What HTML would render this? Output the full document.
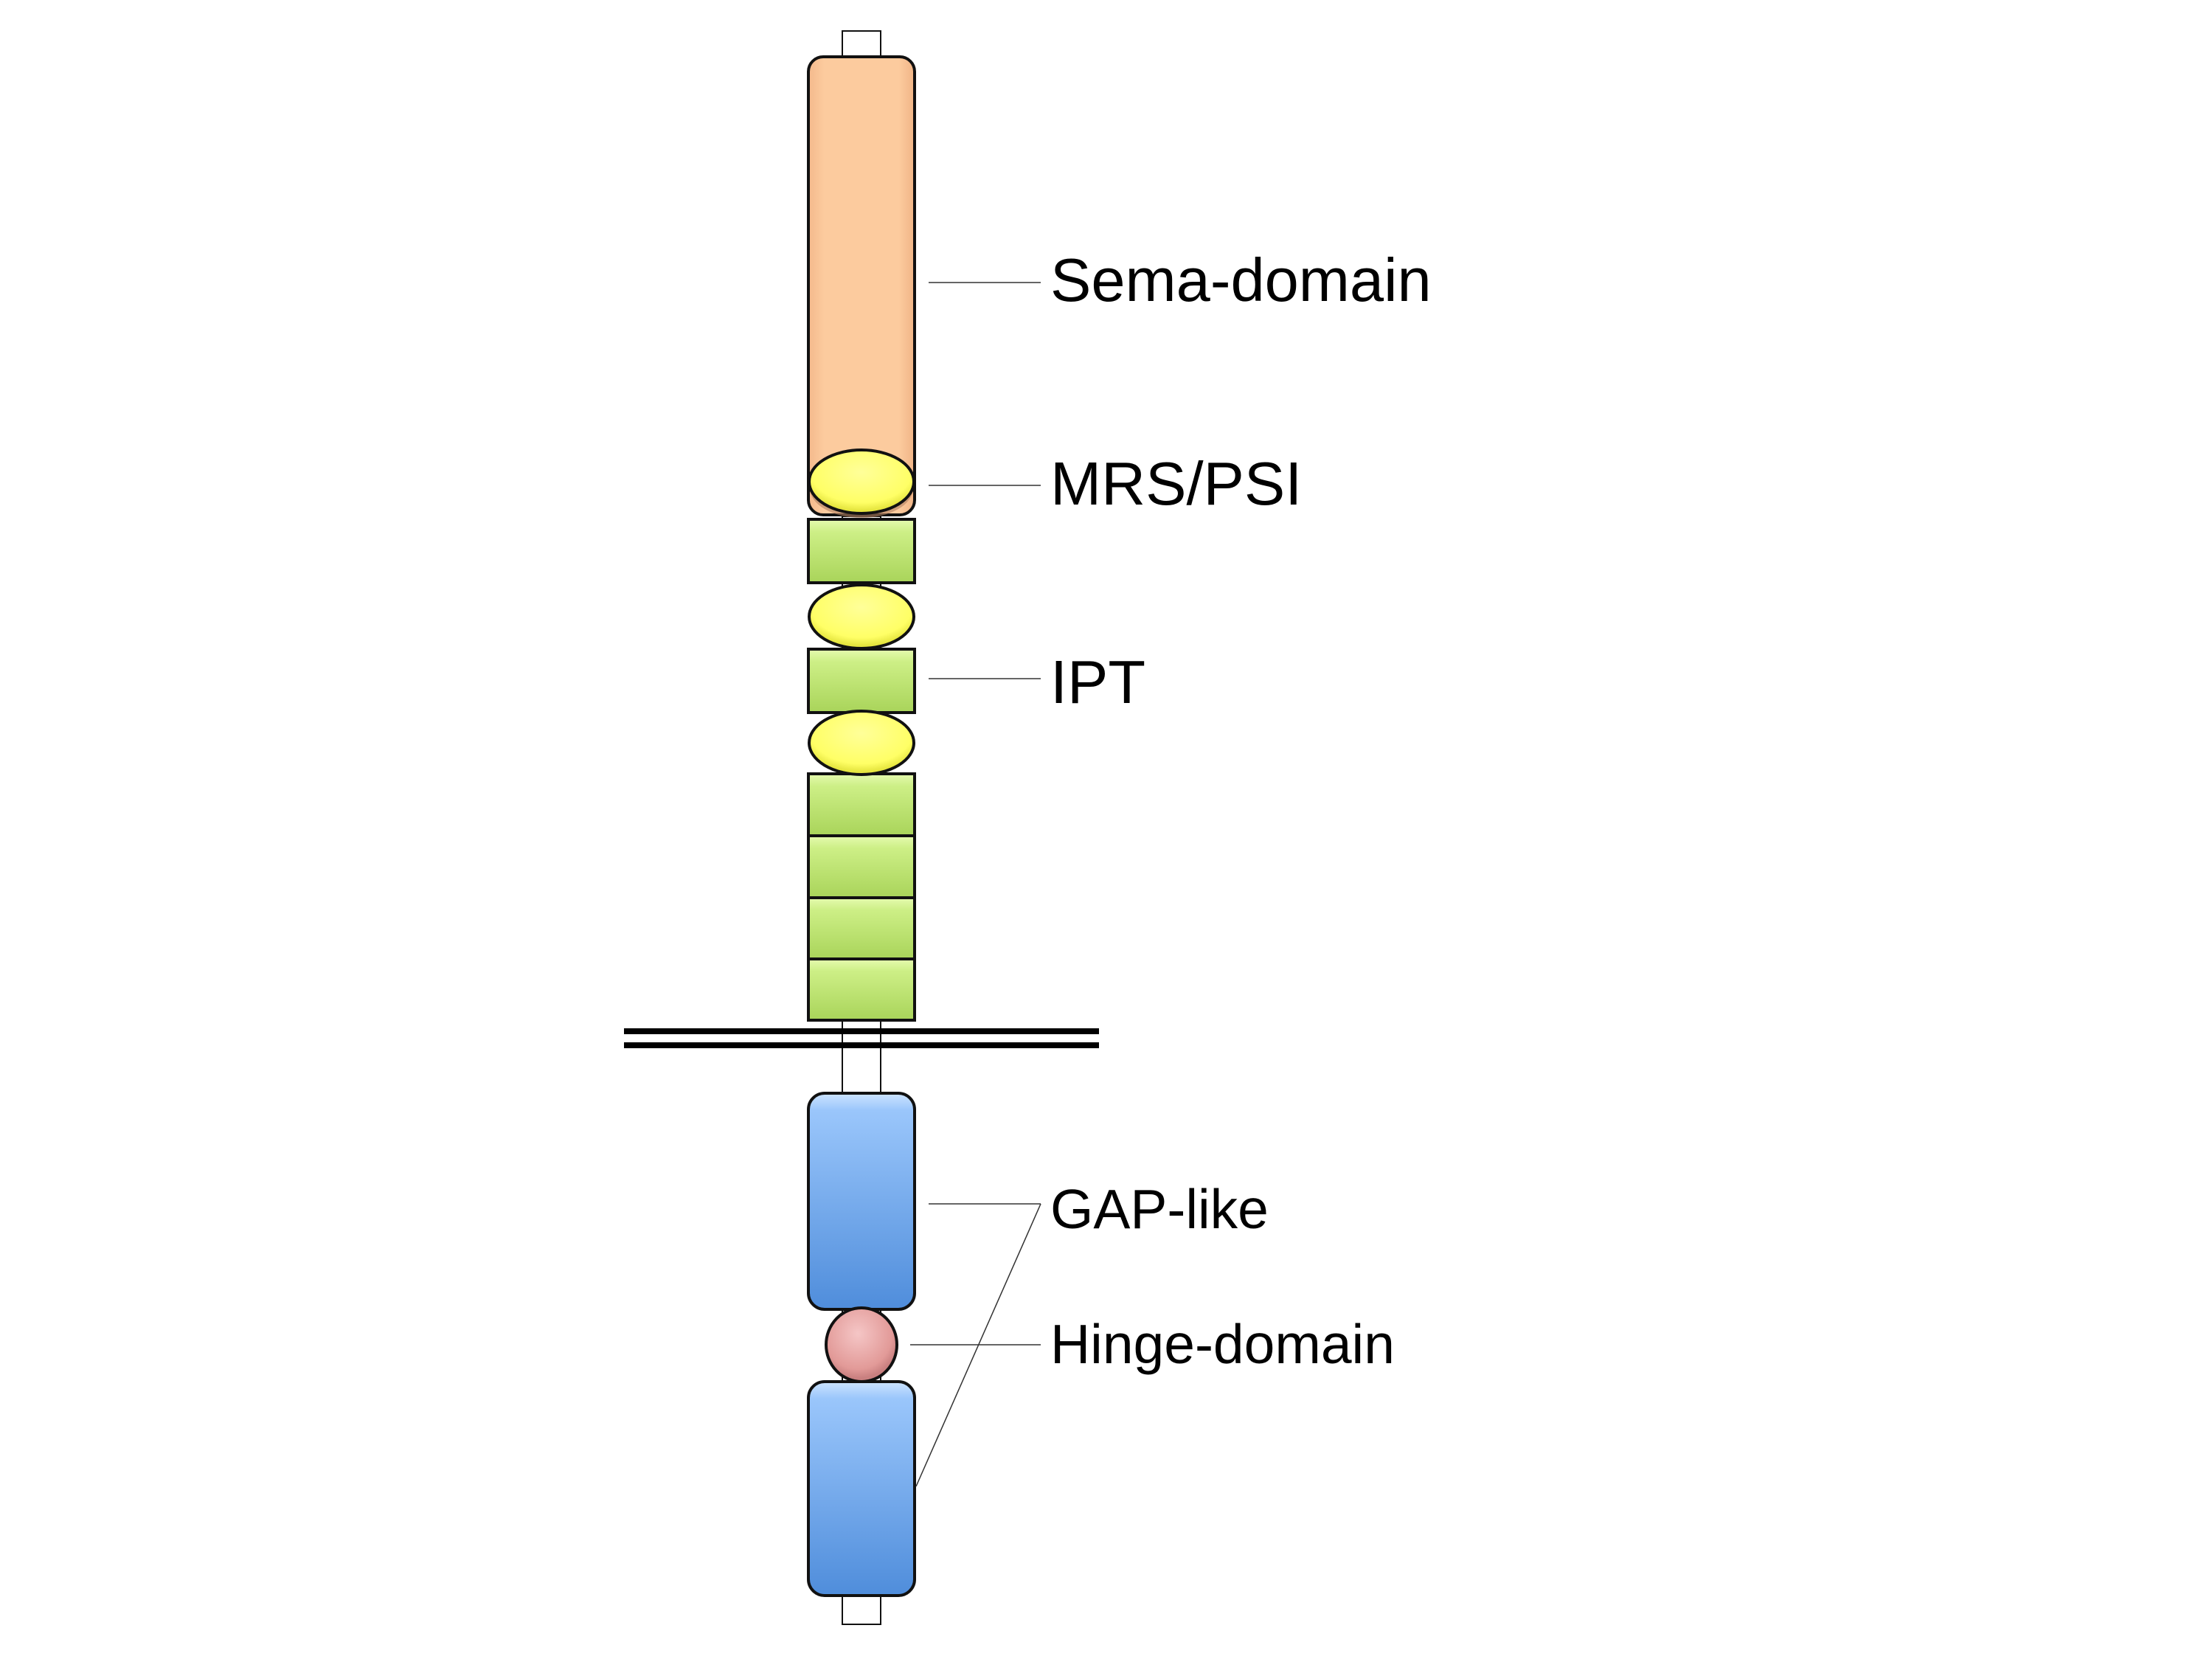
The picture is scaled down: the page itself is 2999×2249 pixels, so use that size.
<!DOCTYPE html>
<html><head><meta charset="utf-8"><style>html,body{margin:0;padding:0;background:#fff}svg{display:block}</style></head><body>
<svg width="2999" height="2249" viewBox="0 0 2999 2249" xmlns="http://www.w3.org/2000/svg" font-family="Liberation Sans, Arial, sans-serif">
<defs>
<linearGradient id="peach" x1="0" x2="1" y1="0" y2="0"><stop offset="0" stop-color="#f4b98c"/><stop offset="0.15" stop-color="#fccb9e"/><stop offset="0.85" stop-color="#fccb9e"/><stop offset="1" stop-color="#f0b486"/></linearGradient>
<linearGradient id="green" x1="0" x2="0" y1="0" y2="1"><stop offset="0" stop-color="#e6fbb0"/><stop offset="0.2" stop-color="#cdef86"/><stop offset="1" stop-color="#a9d45a"/></linearGradient>
<radialGradient id="yel" cx="0.5" cy="0.35" r="0.6"><stop offset="0" stop-color="#ffff99"/><stop offset="0.8" stop-color="#ffff66"/><stop offset="1" stop-color="#e6e640"/></radialGradient>
<linearGradient id="blue" x1="0" x2="0" y1="0" y2="1"><stop offset="0" stop-color="#cde4ff"/><stop offset="0.08" stop-color="#9ac6fb"/><stop offset="1" stop-color="#4f8ddb"/></linearGradient>
<radialGradient id="pink" cx="0.45" cy="0.35" r="0.6"><stop offset="0" stop-color="#f5c6c6"/><stop offset="0.8" stop-color="#e29a98"/><stop offset="1" stop-color="#c98080"/></radialGradient>
</defs>
<g stroke="#111" fill="#fff" stroke-width="2">
<rect x="1142" y="42" width="52" height="50"/>
<rect x="1142" y="700" width="52" height="1480"/>
<rect x="1142" y="2150" width="52" height="52"/>
</g>
<rect x="1096" y="77" width="144" height="621" rx="20" fill="url(#peach)" stroke="#111" stroke-width="4"/>
<ellipse cx="1168" cy="662" rx="70" ry="40" fill="#b08060" opacity="0.6"/>
<ellipse cx="1168" cy="653" rx="71" ry="43" fill="url(#yel)" stroke="#111" stroke-width="4"/>
<g fill="url(#green)" stroke="#111" stroke-width="4">
<rect x="1096" y="704" width="144" height="86"/>
<rect x="1096" y="880" width="144" height="86"/>
<rect x="1096" y="1049" width="144" height="84"/>
<rect x="1096" y="1133" width="144" height="84"/>
<rect x="1096" y="1217" width="144" height="83"/>
<rect x="1096" y="1300" width="144" height="83"/>
</g>
<g fill="url(#yel)" stroke="#111" stroke-width="4">
<ellipse cx="1168" cy="836" rx="71" ry="43"/>
<ellipse cx="1168" cy="1007" rx="71" ry="43"/>
</g>
<rect x="846" y="1394" width="644" height="8" fill="#000"/>
<rect x="846" y="1413" width="644" height="8" fill="#000"/>
<g fill="url(#blue)" stroke="#111" stroke-width="4">
<rect x="1096" y="1482" width="144" height="293" rx="22"/>
<rect x="1096" y="1873" width="144" height="290" rx="22"/>
</g>
<ellipse cx="1168" cy="1823" rx="48" ry="50" fill="url(#pink)" stroke="#111" stroke-width="4"/>
<g stroke="#333" stroke-width="1.5" fill="none">
<line x1="1259" y1="383" x2="1411" y2="383"/>
<line x1="1259" y1="658" x2="1411" y2="658"/>
<line x1="1259" y1="920" x2="1411" y2="920"/>
<line x1="1259" y1="1632" x2="1411" y2="1632"/>
<line x1="1411" y1="1632" x2="1242" y2="2015"/>
<line x1="1234" y1="1823" x2="1411" y2="1823"/>
</g>
<g fill="#000" font-size="83">
<text x="1424" y="408">Sema-domain</text>
<text x="1424" y="684">MRS/PSI</text>
<text x="1424" y="953">IPT</text>
</g>
<g fill="#000" font-size="75">
<text x="1424" y="1665">GAP-like</text>
<text x="1424" y="1848">Hinge-domain</text>
</g>
</svg>
</body></html>
